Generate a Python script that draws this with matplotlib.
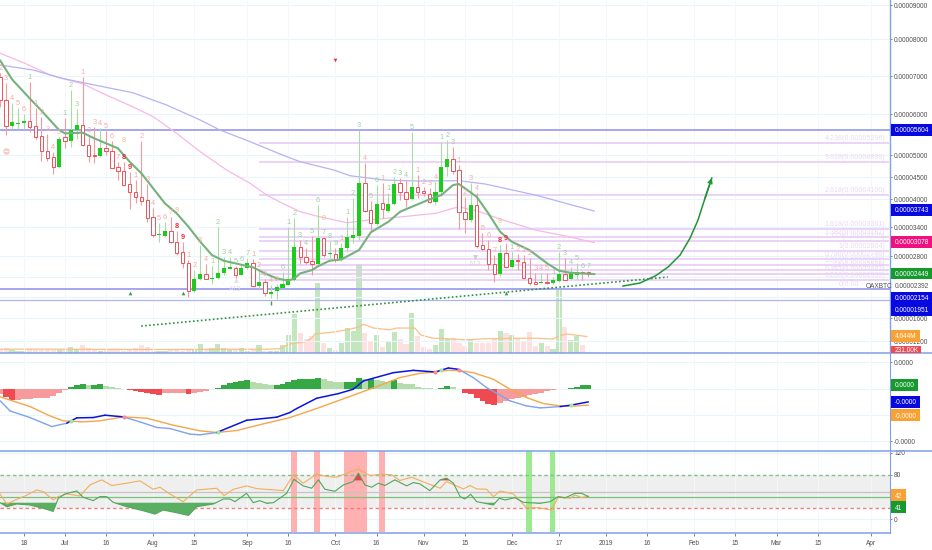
import numpy as np
import matplotlib
matplotlib.use("Agg")
import matplotlib.pyplot as plt
from matplotlib.patches import Rectangle
from matplotlib.lines import Line2D

plt.rcParams['font.family'] = ['Liberation Sans', 'DejaVu Sans']

# ---------- data (prices in 1e-8 BTC, days counted from 2018-07-01) ----------
bar_days = list(range(-22, 180, 2))
opens = [6982,6368,5707,5756,5789,5829,5699,5472,5106,4947,4720,5431,5341,5610,5724,5236,4992,4970,5171,5106,
         4720,4629,4341,4152,4038,3971,3607,3228,3221,3324,3083,2876,2658,2116,2348,2452,2361,2374,2477,2555,
         2568,2432,2568,2658,2219,2290,2071,2116,2187,2245,2336,2993,2774,2710,2645,3165,2834,2848,2723,2959,
         3179,3214,4371,3764,3464,3907,3750,3893,4356,4167,3993,4265,4174,4114,3943,4167,4735,4917,4659,3721,
         3543,3864,3034,2945,2645,2452,2862,2581,2723,2690,2381,2290,2271,2303,2271,2316,2452,2355,2439,2497,2490]
highs = [7072,6807,6281,6149,6000,6851,6149,5919,5512,5081,5447,5911,6632,6123,6965,5488,5675,5650,5593,5350,
         4848,4848,4621,4432,5350,4341,3800,3493,3514,3607,3324,3096,2723,2529,3028,2645,2606,3407,2774,2774,
         2606,2645,2755,2742,2529,2348,2239,2258,2497,3407,3586,3131,2959,3214,3871,3186,3110,2959,3062,3607,
         4015,5610,4826,3964,4318,4356,4129,4508,4469,4432,5553,4545,4280,4242,4394,5325,5366,5203,4773,4038,
         4371,4129,3283,3131,2821,3028,3062,2890,2841,2821,2755,2465,2465,2477,2400,2890,2755,2594,2658,2510,2510]
lows = [6193,5488,5626,5626,5626,5569,5382,4871,4871,4568,4697,5163,5187,5382,5220,4848,4826,4947,5000,4697,
        4432,4303,3779,3921,3871,3514,3200,3083,3200,3062,2821,2561,2013,2103,2336,2348,2258,2361,2432,2542,
        2336,2426,2555,2207,2155,2026,1981,1962,2174,2232,2323,2645,2645,2426,2626,2790,2755,2690,2710,2890,
        3062,3131,3729,3324,3443,3586,3729,3871,3979,3836,3979,4015,4068,3907,3871,4068,4522,4568,3352,3283,
        3514,2959,2924,2529,2303,2419,2561,2561,2529,2348,2232,2252,2271,2258,2258,2303,2336,2348,2348,2336,2387]
closes = [6368,5707,5797,5772,5829,5675,5447,5098,4939,4720,5398,5341,5610,5724,5236,4985,4970,5171,5098,4712,
          4644,4318,4152,4038,3957,3600,3228,3248,3324,3083,2869,2658,2116,2355,2452,2361,2381,2477,2561,2581,
          2432,2568,2658,2219,2290,2090,2103,2194,2258,2361,2979,2774,2690,2645,3165,2821,2855,2723,2959,3186,
          3228,4371,3750,3493,3893,3779,3893,4341,4152,3993,4265,4167,4129,3929,4167,4735,4909,4644,3714,3564,
          3864,3007,2938,2639,2452,2855,2594,2723,2710,2368,2284,2265,2303,2278,2336,2452,2342,2465,2490,2471,2449]

volumes_m = [1.0,1.2,.8,.6,.6,1.0,1.0,.8,.8,.8,.8,1.0,1.7,1.0,2.1,1.2,.8,.6,1.0,1.0,.8,.6,.8,1.2,2.1,1.6,.6,.6,.5,.8,
             1.0,.6,.8,1.0,2.6,.8,1.2,2.6,1.4,1.0,1.0,1.2,.6,1.0,2.1,.5,.6,.4,2.3,5.2,11.2,5.6,3.9,4.9,20.0,2.7,1.4,.8,2.7,7.0,
             6.3,25.5,5.8,3.4,5.0,1.7,3.4,6.0,3.9,2.4,11.4,4.7,1.5,1.0,2.1,6.8,3.9,4.1,2.9,1.9,3.7,2.9,2.7,2.9,3.9,6.3,5.6,5.0,4.1,3.4,
             6.0,1.9,2.9,1.9,1.0,18.7,7.3,3.7,4.9,2.1,0.231]
vol_ma_days = [-22,-14,34,68.6,73,76.5,82,84,85,90,96,100,101.5,105,110.5,112.8,119,121,125,136.5,143,159,166,167.7,170.5,177.5]
vol_ma_m = [1.0,1.0,.9,1.0,1.1,2.5,3.2,4.2,5.4,5.8,6.6,7.4,8.2,7.1,6.6,7.1,7.1,5.1,4.2,3.7,4.0,4.2,3.9,4.7,5.4,4.644]

ema_days = [-22,-18,-12,-8,-2,0,6,10,14,18,22,26,30,34,38,42,46,50,54,58,64,68,72,76,78,80,84,86,90,94,100,104,110,114,118,124,128,132,134,140,144,148,152,158,164,168,172,180]
ema_vals = [7414,6912,6412,6088,5610,5528,5545,5406,5285,5163,4848,4584,4242,3907,3693,3407,3096,2821,2710,2658,2581,2465,2368,2323,2368,2465,2529,2600,2710,2735,2924,3290,3514,3729,3836,3993,4091,4318,4341,4053,3693,3303,3096,2924,2658,2516,2477,2452]
ma50_days = [-22,-13.6,-5,-1,6.2,14,23,30,38,46,55,63,68.6,74,80,85.6,96,103,114.6,126,134,141,149,160,171.5,180]
ma50_vals = [7612,7342,7027,6939,6789,6500,6193,5935,5528,5081,4659,4356,4091,3907,3729,3636,3493,3550,3621,3693,3836,3729,3550,3338,3200,3078]
ma200_days = [-22,-10.8,-1,14,23,34.6,46,52.7,63,74,80,91.5,97,108.6,120,134,143,160,180]
ma200_vals = [7297,7162,6939,6702,6562,6237,5854,5610,5325,5000,4848,4659,4530,4432,4409,4417,4341,4091,3743]

td_counts = [2,3,4,5,6,1,1,2,3,4,5,1,2,3,1,2,3,4,5,6,7,8,9,1,2,3,4,5,6,7,8,9,1,2,3,4,1,2,3,4,5,6,7,1,2,3,4,5,6,1,2,3,4,5,6,7,8,9,1,1,2,3,4,5,6,1,1,2,3,4,5,1,2,3,4,1,2,3,1,2,3,4,5,6,7,8,9,1,2,1,2,3,4,5,1,2,3,4,5,6,7]
td_sides = ("rrrrr" "g" "rrrrr" "ggg" "rrrrrrr" "RR" "rrrrrrr" "RR" "rrrr" "ggggggg" "rrrrr" "gggggggggg"
            "r" "ggg" "r" "gg" "r" "ggggg" "rrrr" "ggg" "rrrrrrr" "RR" "gr" "rrrrr" "ggggggg")
setup_days = [20, 38, 88, 148]
setup_vals = [5366, 3764, 3586, 3514]

hline_vals = [5604, 2154, 1951]
fib_ratios = ["4.236", "3.618", "2.618", "1.618", "1.382", "1.272", "1", "0.786", "0.618", "0.5", "0.382", "0.236"]
fib_vals = [5296, 4839, 4100, 3361, 3187, 3105, 2904, 2746, 2622, 2535, 2447, 2339]
fib_zero = 2165
trend_days = [25.9, 55, 205]
trend_vals = [1461, 1600, 2394]
arrow_days = [189.8,195.5,200.7,205.1,209.2,212.6,215.3,217.7,220]
arrow_vals = [2220,2278,2413,2587,2821,3172,3550,4023,4478]
up_flag_days = [22, 40, 150]
up_flag_val = 2084
down_flag_day, down_flag_val = 92, 7433

macd_hist = [-1.08,-1.52,-2.22,-2.16,-2.03,-1.90,-1.84,-1.84,-1.78,-1.39,-.89,-.25,.25,.70,.82,.63,.63,.82,.51,.32,
             .13,-.06,-.25,-.38,-.57,-.76,-1.08,-1.20,-.89,-.89,-.89,-.89,-1.08,-.89,-.63,-.38,-.13,.19,.76,1.08,
             1.27,1.46,1.58,1.33,1.14,.89,.76,.76,.95,1.27,1.58,1.78,1.78,1.78,2.09,1.78,1.46,1.33,1.27,1.27,
             1.27,2.09,1.78,1.78,1.65,1.39,1.27,1.65,1.14,.89,.82,.38,.19,.06,0,.13,.51,.38,-.13,-.76,
             -.95,-1.84,-2.34,-2.85,-3.04,-2.79,-2.34,-2.03,-1.78,-1.52,-1.27,-1.01,-.76,-.51,-.25,-.06,0,.19,.38,.63,.63]
macd_days = [-22,-18.7,-11.9,-4.5,.6,4,9.6,13.6,19.8,25.5,31.2,35.7,42.5,45.9,51.6,61.8,72,76.5,78.8,85.6,93,98,101.5,111.7,118.5,125.9,130.4,133.8,138.9,143.4,151.4,157,161.6,168.4,171.8,178]
macd_vals = [-2.34,-4.25,-5.52,-7.23,-6.6,-5.58,-5.52,-5.07,-5.39,-6.34,-7.41,-7.61,-8.68,-8.81,-8.37,-6.03,-5.45,-4.56,-3.8,-1.84,-.95,-.13,1.46,3.04,3.48,3.17,3.93,3.68,2.09,.19,-2.34,-3.3,-3.68,-3.43,-3.18,-2.54]
signal_days = [-22,-11.9,-5.1,-.6,6.2,11.9,19.8,27.8,36.8,45.9,51.6,58.4,67.5,76.5,85.6,98,106,113.9,120.7,125.9,130.4,133.8,138.9,145.7,151.4,157,162.7,168.4,171.8,178]
signal_vals = [-1.58,-3.42,-5.2,-6.15,-6.34,-6.15,-5.39,-5.64,-6.97,-8.05,-8.37,-7.99,-6.72,-5.52,-3.8,-1.27,.38,2.09,2.92,3.17,3.48,3.42,3.04,1.78,-.13,-1.71,-2.85,-3.3,-3.36,-3.17]
cross_up_days = [2, 52, 128, 172]
cross_dn_days = [20, 126, 134]

rsi_days = [-22.1,-19.8,-16.4,-11.9,-7.4,-4,-2.3,0,4,6.2,9.6,11.9,14.2,16.4,21,26.6,30.6,33.4,38,42,44.8,50.5,53.9,56.1,57.8,61.8,64,66.3,68.6,70.9,75.4,77.9,81,83.9,86.2,88.4,91.8,94.7,98,99.8,102,104.3,106.6,108.8,112.2,116.2,118.5,120.7,124.1,127.6,129.8,132.1,134.4,136,138,140,145.7,147.7,149.7,153,155.9,161.6,165,167.8,170,173.5,175.7,178]
rsi_vals = [30.1,22.9,27.7,25.9,19.9,14.4,37.9,45.7,51.1,39.7,33.7,40.9,40.9,30.7,22.9,15.6,9.6,16.8,12,7.2,22.9,27.7,36.7,36.7,31.9,46.9,30.1,33.7,28.9,30.1,46.9,72.2,60.2,56,71,54.1,50.5,61.9,67.9,83,61.9,57.8,65,60.8,71,60.2,66.2,63.8,51.7,71,74,65,40.9,36.7,45.1,31.9,25.9,37.9,34.9,39.1,30.7,28.9,31.9,40.9,38.5,46.9,46.9,41]
osc_days = [-22.1,-19.8,-16.4,-13.6,-9.6,-7.4,-4,-2.3,.6,5.1,8.5,12.5,15.9,21,25.5,30,32.3,35.7,40.2,44.8,51.6,54.1,57.3,61.8,65.2,74.3,77.7,81,85.6,89,92.4,95.8,99.8,103.7,107.7,111.1,113.9,117.9,123,127.6,129.8,135.5,137.8,140,143.4,145.7,148,152.5,157,161,165.5,167.8,171.8,173.5,175.7,178]
osc_vals = [45.7,27.7,36.1,42.1,52.9,49.9,34.9,40.9,45.7,42.1,61.9,71,60.8,65,69.2,54.1,57.8,45.7,31.9,52.9,55.9,42.7,54.1,60.2,55.3,51.7,80,65,81.2,77,75.8,83,90.3,78.8,81.2,80,69.8,75.8,65,56,67.9,54.7,60.8,54.7,54.1,40.9,51.1,45.7,21,21,16.8,40.9,37.9,43.9,39.1,42]
red_bands = [(77, 78.8), (84.8, 86.8), (94.9, 102.6), (106.8, 108.8)]
green_bands = [(156.9, 158.8), (164.8, 166.8)]

tick_days = [-14,0,14,30,44,62,76,92,106,122,136,152,168,184,198,214,228,242,256,274]
tick_labels = ["18","Jul","16","Aug","15","Sep","16","Oct","16","Nov","15","Dec","17","2019","16","Feb","15","Mar","15","Apr"]
price_ticks = [1200,1600,2800,3400,4000,4500,5000,6000,7000,8000,9000]
price_grid_extra = [2000, 2400]
# axis calibration: price against height on the chart
scale_prices = [1000,1200,1600,2800,3400,4000,4500,5000,6000,7000,8000,9000,9147]
scale_pos = [-352.5,-341,-318,-256,-227,-199,-177,-155,-114,-76,-39,-5,0]

# ---------- figure ----------
W, H = 932, 550
fig = plt.figure(figsize=(W/100, H/100), dpi=100, facecolor="white")
def rect(top, bottom, right=890):
    return [0, 1-bottom/H, right/W, (bottom-top)/H]

TXT = "#505050"; AX = "#7f9fe6"; GRID = "#e8f5fb"; VG = "#f5f8fb"
FS = 4.7
X0, X1 = -22.1, 280.6

ax_v = fig.add_axes(rect(0, 352.6), zorder=0)
ax = fig.add_axes(rect(0, 352.6), zorder=1, sharex=ax_v)
ax_m = fig.add_axes(rect(353, 450.7), zorder=1)
ax_r = fig.add_axes(rect(450.7, 532.7), zorder=1)

days = np.array(bar_days)
O, Hi, Lo, C = map(np.array, (opens, highs, lows, closes))
up = C >= O

# volume
ax_v.bar(days, volumes_m, width=1.75, color=np.where(up, "#c3e6bf", "#fde0e0"), linewidth=0)
ax_v.plot(vol_ma_days, vol_ma_m, color="#f9c088", lw=0.9)
ax_v.set_ylim(0, 102)
ax_v.set_xlim(X0, X1)
ax_v.axis("off")

# price
ax.patch.set_alpha(0)
fwd = lambda p: np.interp(p, scale_prices, scale_pos)
inv = lambda y: np.interp(y, scale_pos, scale_prices)
ax.set_yscale("function", functions=(fwd, inv))
ax.set_ylim(1000, 9147)
ax.set_xlim(X0, X1)
ax.set_yticks(price_ticks)
ax.set_yticklabels([f"{t/1e8:.8f}" for t in price_ticks])
ax.yaxis.tick_right()
ax.minorticks_off()
ax.tick_params(axis="y", length=1.5, width=0.5, color=TXT, labelsize=FS, labelcolor=TXT, pad=1.5)
ax.tick_params(axis="x", length=0, labelbottom=False)
for s in ("top", "left", "bottom"):
    ax.spines[s].set_visible(False)
ax.spines["right"].set_color(AX)
ax.spines["right"].set_linewidth(1)
for t in price_ticks + price_grid_extra:
    ax.axhline(t, color=GRID, lw=0.8, zorder=0)
for t in tick_days:
    ax.axvline(t, color=VG, lw=0.7, zorder=0)

# fibonacci
FIB = "#e6c8f4"
for r, v in zip(fib_ratios, fib_vals):
    ax.plot([66, 280.3], [v, v], color=FIB, lw=1.1, zorder=1, solid_capstyle="butt")
    ax.annotate(f"{r}(0.{v:08d})", (279, v), xytext=(0, 0.8), textcoords="offset points",
                ha="right", va="bottom", fontsize=5.1, color="#ead9f6", zorder=1)
ax.plot([66, 270.7], [fib_zero, fib_zero], color=FIB, lw=1.1, zorder=1)
ax.annotate("0(0.00", (270.3, fib_zero), xytext=(0, 0.8), textcoords="offset points",
            ha="right", va="bottom", fontsize=5.1, color="#ead9f6", zorder=1)

# horizontal levels
ax.axhline(hline_vals[0], color="#a5a5f2", lw=1.4, zorder=2)
ax.axhline(hline_vals[1], color="#a5a5f2", lw=1.4, zorder=2)
ax.axhline(hline_vals[2], color="#b3b3f0", lw=0.9, zorder=2)

# moving averages
ax.plot(ma50_days, ma50_vals, color="#f8b8e6", lw=0.9, zorder=3)
ax.plot(ma200_days, ma200_vals, color="#b4b4f4", lw=0.9, zorder=3)

# candles
ax.vlines(days[~up], Lo[~up], Hi[~up], color="#f39a9c", lw=0.8, zorder=4)
ax.vlines(days[up], Lo[up], Hi[up], color="#a9dca4", lw=0.8, zorder=4)
ax.bar(days[up], (C-O)[up], bottom=O[up], width=1.4, color="#1ccb1c", linewidth=0, zorder=5)
ax.bar(days[~up], (O-C)[~up], bottom=C[~up], width=1.15, facecolor="white", edgecolor="#ef5058", linewidth=0.7, zorder=5)
ax.plot(ema_days, ema_vals, color="#74b27c", lw=1.5, zorder=6)

# sequential counts
for d, h, n, s in zip(bar_days, Hi, td_counts, td_sides):
    col = {"r": "#f6aaa8", "g": "#a2cfa2", "R": "#e8323f"}[s]
    ax.annotate(str(n), (d, h), xytext=(0, 0.8), textcoords="offset points", ha="center", va="bottom",
                fontsize=5.3, color=col, fontweight="bold" if s == "R" else "normal", zorder=6)
for d, v in zip(setup_days, setup_vals):
    ax.text(d, v, "8", color="#f7bd84", fontsize=5.3, ha="center", va="center", zorder=6)

# trend, arrow, flags
ax.plot(trend_days, trend_vals, color="#2f9140", lw=1.2, ls=(0, (1, 1.4)), zorder=7)
ax.plot(arrow_days, arrow_vals, color="#1f9433", lw=1.1, zorder=7)
ax.annotate("", xy=(arrow_days[-1], arrow_vals[-1]), xytext=(arrow_days[-2], arrow_vals[-2]),
            arrowprops=dict(arrowstyle="->", color="#1f9433", lw=1.1, mutation_scale=7, shrinkA=0, shrinkB=0), zorder=7)
ax.scatter(up_flag_days, [up_flag_val]*3, marker="^", s=7, color="#3f9a4d", linewidths=0, zorder=7)
ax.scatter([down_flag_day], [down_flag_val], marker="v", s=7, color="#e8323f", linewidths=0, zorder=7)
ax.scatter([70], [1891], marker="|", s=10, color="#3f9a4d", linewidths=1.0, zorder=7)
ax.text(58, 2160, "A13", color="#dcdcdc", fontsize=5, ha="center", va="center", zorder=6)
ax.scatter([58], [2330], marker="^", s=12, color="#e2e2e2", linewidths=0, zorder=6)
ax.text(139.5, 2640, "A13", color="#dcdcdc", fontsize=5, ha="center", va="center", zorder=6)
ax.scatter([139.5], [2790], marker="v", s=12, color="#d8c8c8", linewidths=0, zorder=6)
ax.scatter([-20], [5100], marker="o", s=22, color="#f2cdc6", linewidths=0, zorder=6)
ax.scatter([-20], [5100], marker="_", s=10, color="white", linewidths=0.8, zorder=6)

# MACD (values in units of 1e-6 BTC)
hist = np.array(macd_hist)
prev = np.r_[hist[0], hist[:-1]]
cols = []
for v, p in zip(hist, prev):
    if v >= 0:
        cols.append("#35a844" if v >= p else "#b5dcab")
    else:
        cols.append("#ef4a52" if v < p else "#f69a9c")
ax_m.bar(days, hist, width=2.0, color=cols, linewidth=0, zorder=2)
ax_m.plot(signal_days, signal_vals, color="#f5a64a", lw=1.0, zorder=3)
sig_at = np.interp(macd_days, signal_days, signal_vals)
for i in range(len(macd_days)-1):
    above = (macd_vals[i]+macd_vals[i+1]) >= (sig_at[i]+sig_at[i+1])
    ax_m.plot(macd_days[i:i+2], macd_vals[i:i+2], color="#0a14e0" if above else "#7fa3ea",
              lw=1.1 if above else 1.0, zorder=4, solid_capstyle="round")
ax_m.scatter(cross_up_days, np.interp(cross_up_days, macd_days, macd_vals), s=9, color="#9eea9a", linewidths=0, zorder=5)
ax_m.scatter(cross_dn_days, np.interp(cross_dn_days, macd_days, macd_vals), s=9, color="#f98d90", linewidths=0, zorder=5)
ax_m.set_xlim(X0, X1)
ax_m.set_ylim(-11.84, 6.79)
macd_ticks = [5, -10]
macd_grid = [5, 0, -5, -10]
ax_m.set_yticks(macd_ticks)
ax_m.set_yticklabels([f"{t*1e-6:.4f}" if t >= 0 else f"-{abs(t)*1e-6:.4f}" for t in macd_ticks])
ax_m.yaxis.tick_right()
ax_m.tick_params(axis="y", length=1.5, width=0.5, color=TXT, labelsize=FS, labelcolor=TXT, pad=1.5)
ax_m.tick_params(axis="x", length=0, labelbottom=False)
for t in macd_grid:
    ax_m.axhline(t, color=GRID, lw=0.8, zorder=0)
for t in tick_days:
    ax_m.axvline(t, color=VG, lw=0.7, zorder=0)
for s in ("top", "left", "bottom"):
    ax_m.spines[s].set_visible(False)
ax_m.spines["right"].set_color(AX)

# RSI panel
ax_r.set_xlim(X0, X1)
ax_r.set_ylim(-23.8, 123.3)
ax_r.axhspan(20, 80, color="#efefef", lw=0, zorder=0)
for a, b in red_bands:
    ax_r.axvspan(a, b, ymin=0.01, color="#ffb0b0", lw=0, zorder=1)
for a, b in green_bands:
    ax_r.axvspan(a, b, ymin=0.01, color="#9cea90", lw=0, zorder=1)
for t in (120, 40, 0):
    ax_r.axhline(t, color=GRID, lw=0.8, zorder=0.5)
ax_r.axhline(50, color="#c4c4c4", lw=0.9, zorder=2)
ax_r.axhline(41, color="#7ac27a", lw=0.9, zorder=2)
ax_r.axhline(80, color="#7cc487", lw=1.0, ls=(0, (2.5, 2)), zorder=2)
ax_r.axhline(20, color="#f08080", lw=1.0, ls=(0, (2.5, 2)), zorder=2)
rx = np.array(rsi_days); ry = np.array(rsi_vals)
ax_r.fill_between(rx, ry, 30, where=ry < 30, interpolate=True, color="#5aaf62", lw=0, zorder=3)
ax_r.fill_between(rx, ry, 70, where=ry > 70, interpolate=True, color="#e8404c", lw=0, zorder=3)
ax_r.plot(osc_days, osc_vals, color="#f5ad5a", lw=0.8, zorder=4)
ax_r.plot(rsi_days, rsi_vals, color="#4fa75c", lw=0.8, zorder=5)
rsi_ticks = [120, 80, 0]
ax_r.set_yticks(rsi_ticks)
ax_r.set_yticklabels([str(t) for t in rsi_ticks])
ax_r.yaxis.tick_right()
ax_r.tick_params(axis="y", length=1.5, width=0.5, color=TXT, labelsize=FS, labelcolor=TXT, pad=1.5)
ax_r.set_xticks(tick_days)
ax_r.set_xticklabels(tick_labels)
ax_r.tick_params(axis="x", length=2, width=0.5, color=TXT, labelsize=FS, labelcolor=TXT, pad=3.5)
for t in tick_days:
    ax_r.axvline(t, color=VG, lw=0.7, zorder=0)
for s in ("top", "left"):
    ax_r.spines[s].set_visible(False)
ax_r.spines["right"].set_color(AX)
ax_r.spines["bottom"].set_color(AX)
ax_r.spines["bottom"].set_linewidth(1.1)

# separators reaching the figure edge
for y in (352.8, 450.7):
    fig.add_artist(Line2D([0, 1], [1-y/H, 1-y/H], color=AX, lw=1.1, transform=fig.transFigure, zorder=6))

# price tags beside the axis
def tag(y, text, color, right=932, fg="white"):
    h = 11.6
    fig.add_artist(Rectangle((891/W, 1-(y+h/2)/H), (right-891)/W, h/H, transform=fig.transFigure,
                             facecolor=color, edgecolor="none", zorder=8))
    fig.text(895/W, 1-y/H, text, color=fg, fontsize=FS, ha="left", va="center_baseline", zorder=9)

fmt = lambda v: f"{v/1e8:.8f}"
tag(130, fmt(hline_vals[0]), "#0808e0")
tag(210, fmt(ma200_vals[-1]), "#0808e0")
tag(242, fmt(ma50_vals[-1]), "#f0107f")
tag(273.5, fmt(closes[-1]), "#169a2e")
fig.add_artist(Rectangle((891/W, 1-316/H), 41/W, 24/H, transform=fig.transFigure, facecolor="#0808e0", edgecolor="none", zorder=8))
fig.text(895/W, 1-298/H, fmt(hline_vals[1]), color="white", fontsize=FS, va="center_baseline", zorder=9)
fig.text(895/W, 1-309.5/H, fmt(hline_vals[2]), color="white", fontsize=FS, va="center_baseline", zorder=9)
tag(336, f"{vol_ma_m[-1]:.3f}M", "#f9a233", right=920)
fig.add_artist(Rectangle((891/W, 1-352.8/H), 30/W, 6.5/H, transform=fig.transFigure, facecolor="#ee4a52", edgecolor="none", zorder=7))
fig.text(895/W, 1-350/H, f"{volumes_m[-1]*1000:.2f}K", color="white", fontsize=FS, va="center_baseline", zorder=9)

tag(384.7, "0.0000", "#169a2e", right=918)
tag(402, "-0.0000", "#0808e0", right=920)
tag(415, "-0.0000", "#f9a233", right=920)
tag(495, f"{osc_vals[-1]:.0f}", "#f9a233", right=906)
tag(507, f"{rsi_vals[-1]:.0f}", "#169a2e", right=906)

fig.text(866/W, 1-285/H, "OAXBTC", color=TXT, fontsize=FS, va="center_baseline", zorder=7)
fig.text(895/W, 1-285/H, "0.00002392", color=TXT, fontsize=FS, va="center_baseline", zorder=7)

fig.savefig("out.png", dpi=100, facecolor="white")
